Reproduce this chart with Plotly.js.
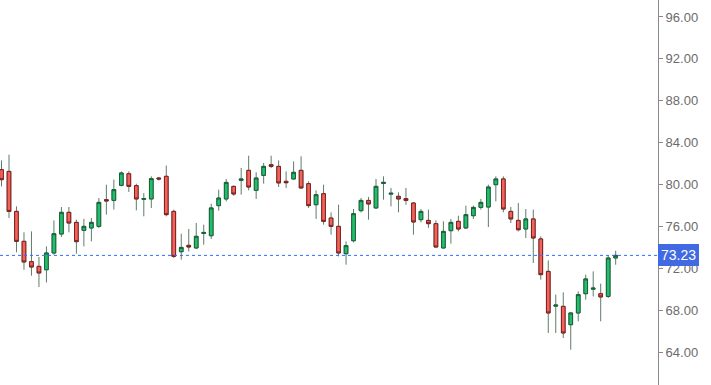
<!DOCTYPE html>
<html>
<head>
<meta charset="utf-8">
<script src="https://cdn.plot.ly/plotly-3.0.1.min.js"></script>
<style>html,body{margin:0;padding:0;background:#fff;}#chart{width:711px;height:385px;}</style>
</head>
<body>
<div id="chart"></div>
<script>
const opens  = [81.42,81.25,77.43,74.57,72.63,72.18,71.86,73.46,75.27,77.34,76.38,75.62,75.85,76.00,78.55,78.48,79.92,81.03,79.89,78.58,78.62,80.62,80.78,77.43,73.58,74.19,73.94,75.32,75.11,77.98,78.62,79.82,80.39,81.35,79.44,80.87,81.89,81.73,80.30,80.53,81.35,80.08,78.07,79.12,76.80,76.00,73.39,74.63,77.50,78.48,77.76,80.10,79.08,78.87,78.65,78.23,76.64,76.57,76.26,73.94,75.59,76.48,75.85,77.02,77.81,77.85,79.98,80.53,77.43,76.57,75.75,76.71,74.80,71.70,68.38,68.36,66.61,67.73,69.57,70.00,69.57,69.31,72.98];
const highs  = [82.30,82.85,77.91,75.43,75.52,73.08,74.09,76.57,77.85,77.85,76.64,76.71,76.80,78.71,79.98,80.46,81.25,81.25,80.08,79.19,80.78,80.72,81.80,77.60,75.30,75.75,76.32,76.16,78.17,79.51,80.53,79.89,81.58,82.75,81.16,82.06,82.75,82.30,81.25,82.21,82.69,80.30,79.44,79.98,77.34,78.07,74.57,77.66,78.71,78.81,80.53,80.78,79.67,79.25,79.67,78.29,77.66,77.60,76.57,76.48,76.71,77.02,77.98,77.98,78.62,79.98,80.78,80.78,77.85,78.23,77.66,77.60,75.05,72.75,69.48,69.70,67.79,69.79,71.39,71.70,70.53,73.20,73.68];
const lows   = [79.82,76.80,73.52,71.86,71.29,70.21,70.65,73.30,74.99,75.43,73.39,74.09,74.57,75.85,77.12,77.60,79.82,79.29,77.53,76.96,77.76,80.39,76.96,72.98,72.82,73.61,73.84,74.25,74.80,77.50,78.39,78.93,79.03,79.44,78.62,80.08,81.58,79.76,79.67,80.46,79.57,77.76,76.71,76.16,75.21,73.13,72.34,74.47,77.34,76.64,77.66,78.55,77.91,77.34,78.07,75.21,76.38,75.85,73.94,73.87,74.35,75.52,75.75,76.71,77.60,75.94,78.39,77.34,76.32,75.52,74.89,72.50,70.91,65.82,65.82,65.34,64.22,66.93,69.00,69.31,66.93,69.16,72.34];
const closes = [80.46,77.43,74.57,72.60,72.12,71.55,73.46,75.30,77.34,76.32,74.54,76.00,76.38,78.29,78.43,79.51,81.10,79.82,78.62,78.66,80.56,80.53,77.12,73.13,73.99,74.03,75.05,75.42,77.76,78.71,80.20,79.09,80.53,79.76,80.62,81.73,81.73,80.15,80.17,81.16,79.67,77.98,79.03,76.48,76.00,73.46,74.16,77.21,78.48,78.14,79.82,80.20,79.16,78.62,78.48,76.42,77.43,76.26,74.03,75.52,76.38,75.75,77.12,77.81,78.29,79.76,80.53,77.66,76.71,75.68,76.71,74.89,71.39,67.73,68.48,65.82,67.73,69.48,70.98,70.10,69.26,72.98,73.23];
const lastPrice = 73.23;
const yTickVals = [64, 68, 72, 76, 80, 84, 88, 92, 96];

const xs = opens.map((_, i) => i);
const bodyHigh = opens.map((o, i) => Math.max(o, closes[i]));
const bodyLow  = opens.map((o, i) => Math.min(o, closes[i]));

const wickColor = '#5d7d6a';
const wicks = {
  type: 'candlestick', x: xs, open: opens, high: highs, low: lows, close: closes,
  increasing: {line: {color: wickColor, width: 1}, fillcolor: 'rgba(0,0,0,0)'},
  decreasing: {line: {color: wickColor, width: 1}, fillcolor: 'rgba(0,0,0,0)'},
  hoverinfo: 'skip', showlegend: false
};
const bodies = {
  type: 'candlestick', x: xs, open: opens, high: bodyHigh, low: bodyLow, close: closes,
  increasing: {line: {color: '#1c5e3a', width: 1}, fillcolor: '#1fbf6b'},
  decreasing: {line: {color: '#7e1e1e', width: 1}, fillcolor: '#f4625a'},
  showlegend: false
};

const layout = {
  width: 711, height: 385,
  margin: {l: 0, r: 53, t: 0, b: 0, pad: 0},
  paper_bgcolor: '#ffffff', plot_bgcolor: '#ffffff',
  showlegend: false,
  font: {family: 'Liberation Sans, Arial, sans-serif', color: '#666666', size: 13},
  xaxis: {visible: false, range: [-0.2, 87.65], rangeslider: {visible: false}, fixedrange: true},
  yaxis: {
    side: 'right', range: [60.85, 97.62],
    tickvals: yTickVals, ticktext: yTickVals.map(v => v.toFixed(2)),
    ticks: 'outside', ticklen: 4, tickcolor: '#8a8a8a', tickwidth: 1,
    showline: true, linecolor: '#8a8a8a', linewidth: 1,
    showgrid: false, zeroline: false,
    tickfont: {size: 13, color: '#6b6b6b'}
  },
  shapes: [{
    type: 'line', xref: 'paper', x0: 0, x1: 1, yref: 'y', y0: lastPrice, y1: lastPrice,
    line: {color: '#2f6dff', width: 1, dash: 'dot'}
  }],
  annotations: [{
    xref: 'paper', x: 1, xanchor: 'left', yref: 'y', y: lastPrice, yanchor: 'middle',
    text: lastPrice.toFixed(2), showarrow: false,
    bgcolor: '#4169e1', bordercolor: '#4169e1', borderpad: 2,
    font: {color: '#ffffff', size: 14, family: 'Liberation Sans, Arial, sans-serif'}
  }]
};

Plotly.newPlot('chart', [wicks, bodies], layout, {displayModeBar: false, staticPlot: true});
</script>
</body>
</html>
